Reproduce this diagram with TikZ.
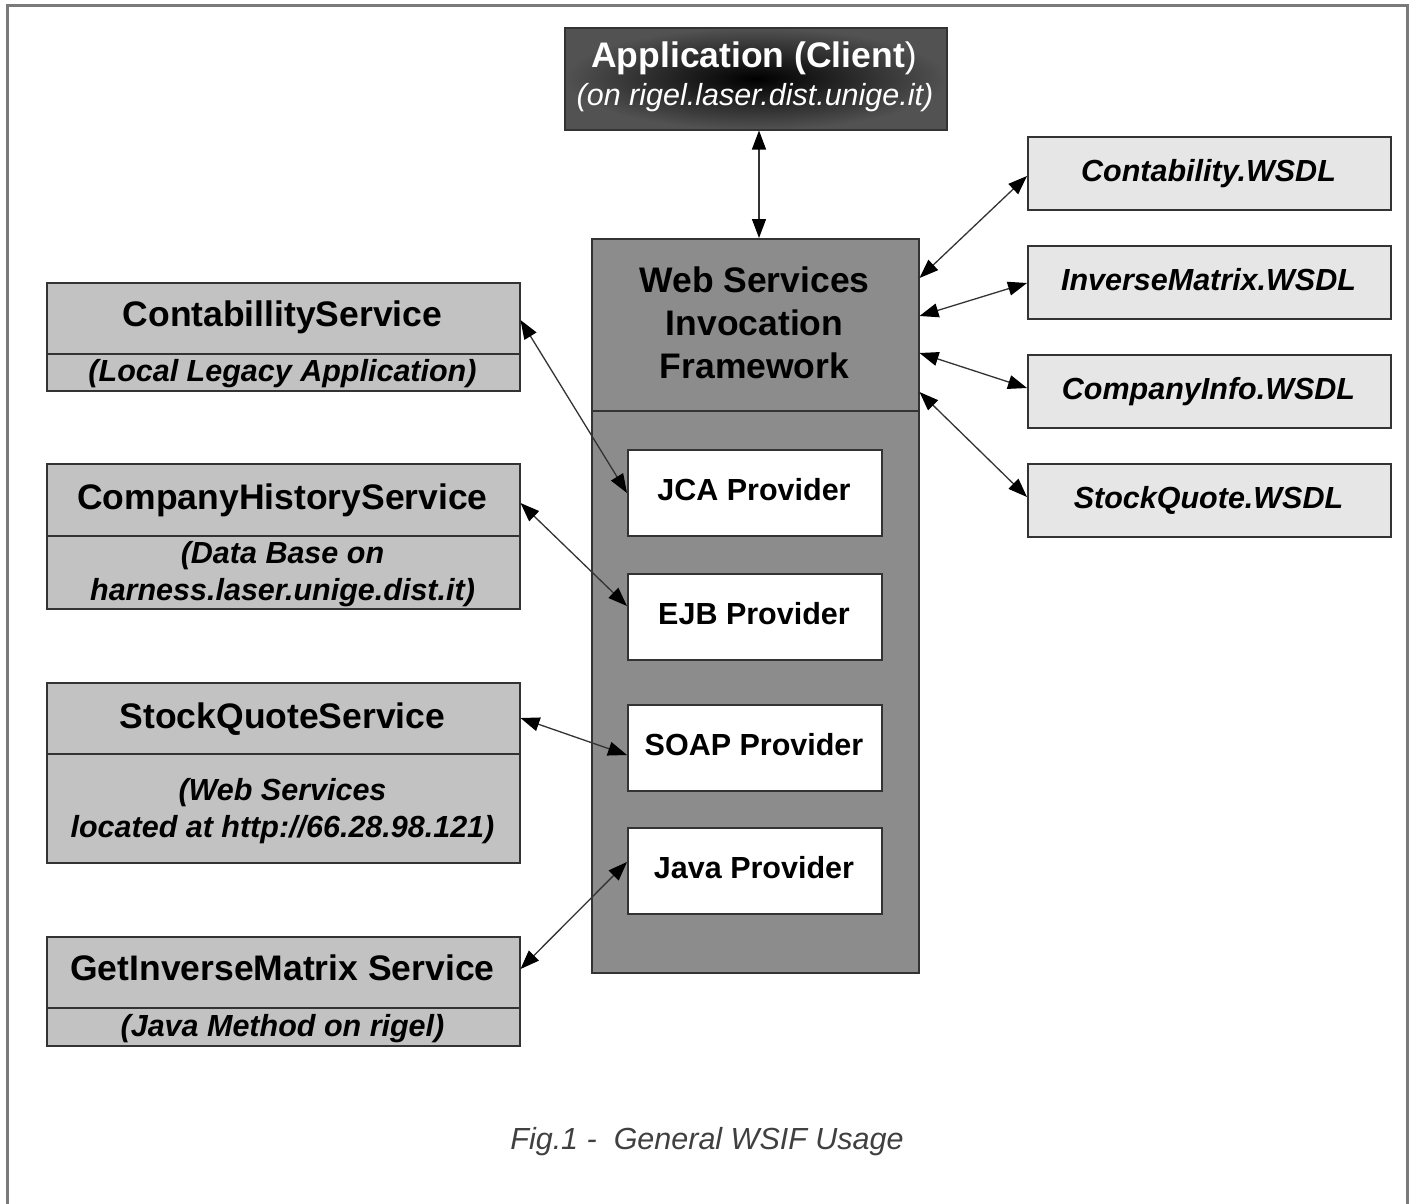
\documentclass[tikz,border=0pt]{standalone}
\usepackage{fontspec}
\setmainfont{Liberation Sans}
\usetikzlibrary{arrows.meta}
\definecolor{lfill}{HTML}{C2C2C2}
\definecolor{wfill}{HTML}{8C8C8C}
\definecolor{dfill}{HTML}{E6E6E6}
\definecolor{edge}{HTML}{333333}
\definecolor{framecol}{HTML}{7A7A7A}
\definecolor{capcol}{HTML}{404040}
\definecolor{appout}{HTML}{525252}
\begin{document}
\begin{tikzpicture}[x=1pt,y=-1pt,
  box/.style={draw=edge, line width=1.5pt, inner sep=0pt, anchor=north west},
  svc/.style={box, fill=lfill, minimum width=473pt},
  wsdl/.style={box, fill=dfill, minimum width=363pt, minimum height=73pt},
  prov/.style={box, fill=white, minimum width=254pt, minimum height=86pt},
  big/.style={font=\fontsize{35.5}{40}\selectfont\bfseries, anchor=base, inner sep=0pt},
  mid/.style={font=\fontsize{30.5}{36}\selectfont\bfseries, anchor=base, inner sep=0pt},
  midit/.style={font=\fontsize{30.5}{36}\selectfont\bfseries\itshape, anchor=base, inner sep=0pt},
  divider/.style={draw=edge, line width=1.5pt},
  link/.style={draw=edge, line width=1.3pt, {Triangle[length=19pt,width=14pt,color=black]}-{Triangle[length=19pt,width=14pt,color=black]}},
]
\fill[white] (0,0) rectangle (1419,1203);
\useasboundingbox (0,0) rectangle (1419,1203);
% outer frame
\draw[framecol, line width=3pt] (7.5,1205) -- (7.5,5) -- (1407,5) -- (1407,1205);

% application
\node[box, minimum width=382pt, minimum height=102pt, inner color=black, outer color=appout] (app) at (564,27) {};
\node[big, text=white] (apptitle) at (754,67) {\textbf{Application (Client}\mdseries)};
\node[font=\fontsize{30.5}{36}\selectfont\itshape, text=white, anchor=base, inner sep=0pt] (appsub) at (755,105) {(on rigel.laser.dist.unige.it)};

% WSIF
\node[box, fill=wfill, minimum width=327pt, minimum height=734pt] (wsif) at (591,238) {};
\draw[divider] (wsif.west |- 0,411) -- (wsif.east |- 0,411);
\node[big] (w1) at (754.5,292) {Web Services};
\node[big] (w2) at (754.5,335) {Invocation};
\node[big] (w3) at (754.5,378) {Framework};

% providers
\node[prov] (jca) at (627,449) {};
\node[mid] (jcat) at (754,500) {JCA Provider};
\node[prov] (ejb) at (627,573) {};
\node[mid] (ejbt) at (754,624) {EJB Provider};
\node[prov] (soap) at (627,704) {};
\node[mid] (soapt) at (754,755) {SOAP Provider};
\node[prov] (java) at (627,827) {};
\node[mid] (javat) at (754,878) {Java Provider};

% left services
\node[svc, minimum height=108pt] (cs) at (46,282) {};
\draw[divider] (cs.west |- 0,354) -- (cs.east |- 0,354);
\node[big] (cst) at (282.5,326) {ContabillityService};
\node[midit] (css) at (282.5,381) {(Local Legacy Application)};

\node[svc, minimum height=145pt] (ch) at (46,463) {};
\draw[divider] (ch.west |- 0,536) -- (ch.east |- 0,536);
\node[big] (cht) at (282.5,509) {CompanyHistoryService};
\node[midit] (chs1) at (282.5,563) {(Data Base on};
\node[midit] (chs2) at (282.5,600) {harness.laser.unige.dist.it)};

\node[svc, minimum height=180pt] (sq) at (46,682) {};
\draw[divider] (sq.west |- 0,754) -- (sq.east |- 0,754);
\node[big] (sqt) at (282.5,728) {StockQuoteService};
\node[midit] (sqs1) at (282.5,800) {(Web Services};
\node[midit] (sqs2) at (282.5,837) {located at http://66.28.98.121)};

\node[svc, minimum height=109pt] (gi) at (46,936) {};
\draw[divider] (gi.west |- 0,1008) -- (gi.east |- 0,1008);
\node[big] (git) at (282.5,980) {GetInverseMatrix Service};
\node[midit] (gis) at (282.5,1036) {(Java Method on rigel)};

% WSDL files
\node[wsdl] (d1) at (1027,136) {};
\node[midit] (d1t) at (1208.5,181) {Contability.WSDL};
\node[wsdl] (d2) at (1027,245) {};
\node[midit] (d2t) at (1208.5,290) {InverseMatrix.WSDL};
\node[wsdl] (d3) at (1027,354) {};
\node[midit] (d3t) at (1208.5,399) {CompanyInfo.WSDL};
\node[wsdl] (d4) at (1027,463) {};
\node[midit] (d4t) at (1208.5,508) {StockQuote.WSDL};

% connectors
\draw[link] (app.south -| 759,0) -- (wsif.north -| 759,0);
\draw[link] (wsif.east |- 0,278) -- (d1.west |- 0,176);
\draw[link] (wsif.east |- 0,316) -- (d2.west |- 0,283);
\draw[link] (wsif.east |- 0,353) -- (d3.west |- 0,388);
\draw[link] (wsif.east |- 0,392) -- (d4.west |- 0,497);

\draw[link] (cs.east |- 0,320) -- (jca.west |- 0,493);
\draw[link] (ch.east |- 0,503) -- (ejb.west |- 0,606);
\draw[link] (sq.east |- 0,718) -- (soap.west |- 0,755);
\draw[link] (gi.east |- 0,969) -- (java.west |- 0,862);

% caption
\node[font=\fontsize{30.5}{36}\selectfont\itshape, text=capcol, anchor=base, inner sep=0pt] (caption) at (707,1149) {Fig.1 -\ \ General WSIF Usage};
\end{tikzpicture}
\end{document}
